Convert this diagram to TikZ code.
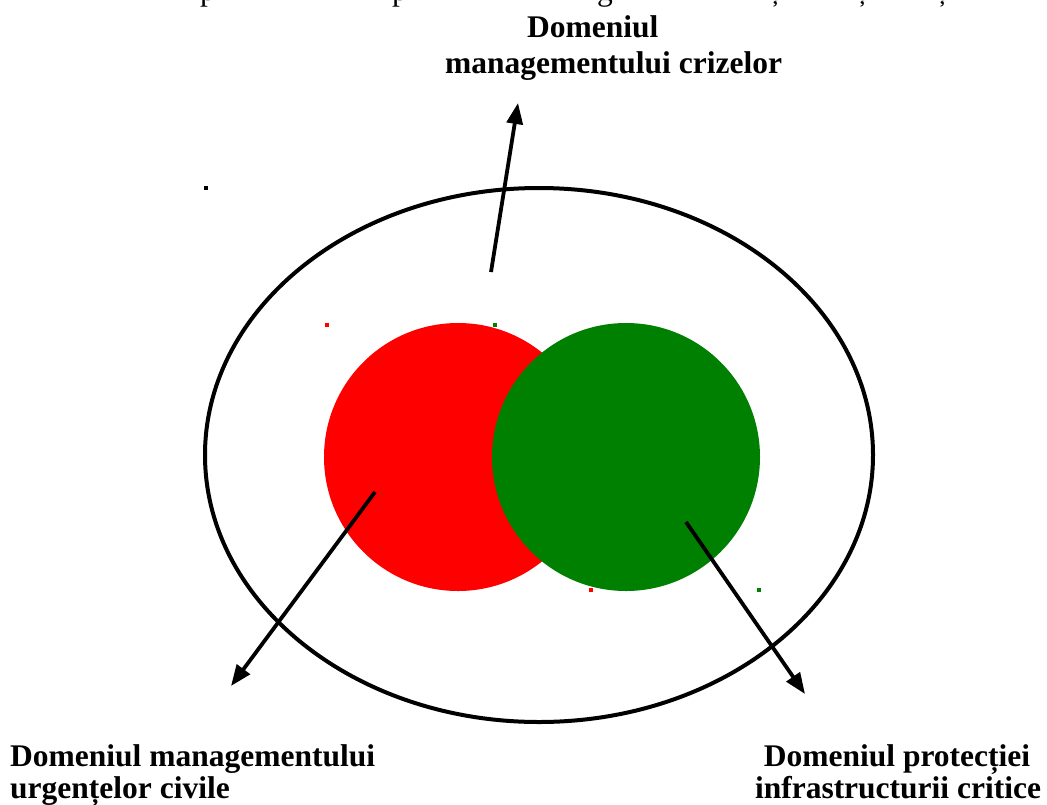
\documentclass[tikz,border=0pt]{standalone}
\usepackage{fontspec}
\setmainfont{Liberation Serif}
\usetikzlibrary{arrows.meta}
\definecolor{vred}{RGB}{255,0,0}
\definecolor{vgreen}{RGB}{0,128,0}
\tikzset{
  lbl/.style={font=\bfseries\fontsize{31.5}{32}\selectfont, inner sep=0pt},
  topline/.style={font=\fontsize{31.5}{32}\selectfont, inner sep=0pt, anchor=base},
  pointer/.style={line width=3.8pt, -{Triangle[length=21pt,width=16pt]}},
  outline/.style={line width=4pt},
  marker/.style={inner sep=0pt, minimum size=4pt, draw=none},
}
\begin{document}
\begin{tikzpicture}[x=1pt,y=-1pt]
\useasboundingbox (0,0) rectangle (1047,804);

% line of text running off the top edge: only its descenders remain
\begin{scope}
\clip (0,0) rectangle (1047,804);
\node[topline] (t1) at (208,0) {p};
\node[topline] (t2) at (400,0) {p};
\node[topline] (t3) at (605,0) {g};
\node[topline] (t4) at (775,0) {ț};
\node[topline] (t5) at (862,0) {ț};
\node[topline] (t6) at (942,0) {ț};
\end{scope}

% outer domain and the two overlapping domains
\draw[outline] (539,455) ellipse [x radius=334, y radius=267];
\fill[vred] (458,457) circle [radius=134];
\fill[vgreen] (626,457) circle [radius=134];

% small corner markers
\node[marker, fill=black] (m0) at (206,188) {};
\node[marker, fill=vred] (m1) at (327,325) {};
\node[marker, fill=vgreen] (m2) at (495,325) {};
\node[marker, fill=vred] (m3) at (591,590) {};
\node[marker, fill=vgreen] (m4) at (759,590) {};

% labels
\node[lbl, anchor=base west] (topA) at (527,37) {Domeniul};
\node[lbl, anchor=base west] (topB) at (445,73) {managementului crizelor};
\node[lbl, anchor=base west] (leftA) at (10,766) {Domeniul managementului};
\node[lbl, anchor=base west] (leftB) at (10,798) {urgențelor civile};
\node[lbl, anchor=base] (rightA) at (897,766) {Domeniul protecției};
\node[lbl, anchor=base] (rightB) at (898,798) {infrastructurii critice};

% pointers
\coordinate (s1) at (491,272);
\coordinate (e1) at (518,103);
\coordinate (s2) at (375,492);
\coordinate (e2) at (231,686);
\coordinate (s3) at (686,522);
\coordinate (e3) at (805,694);
\draw[pointer] (s1) -- (e1);
\draw[pointer] (s2) -- (e2);
\draw[pointer] (s3) -- (e3);
\end{tikzpicture}
\end{document}
